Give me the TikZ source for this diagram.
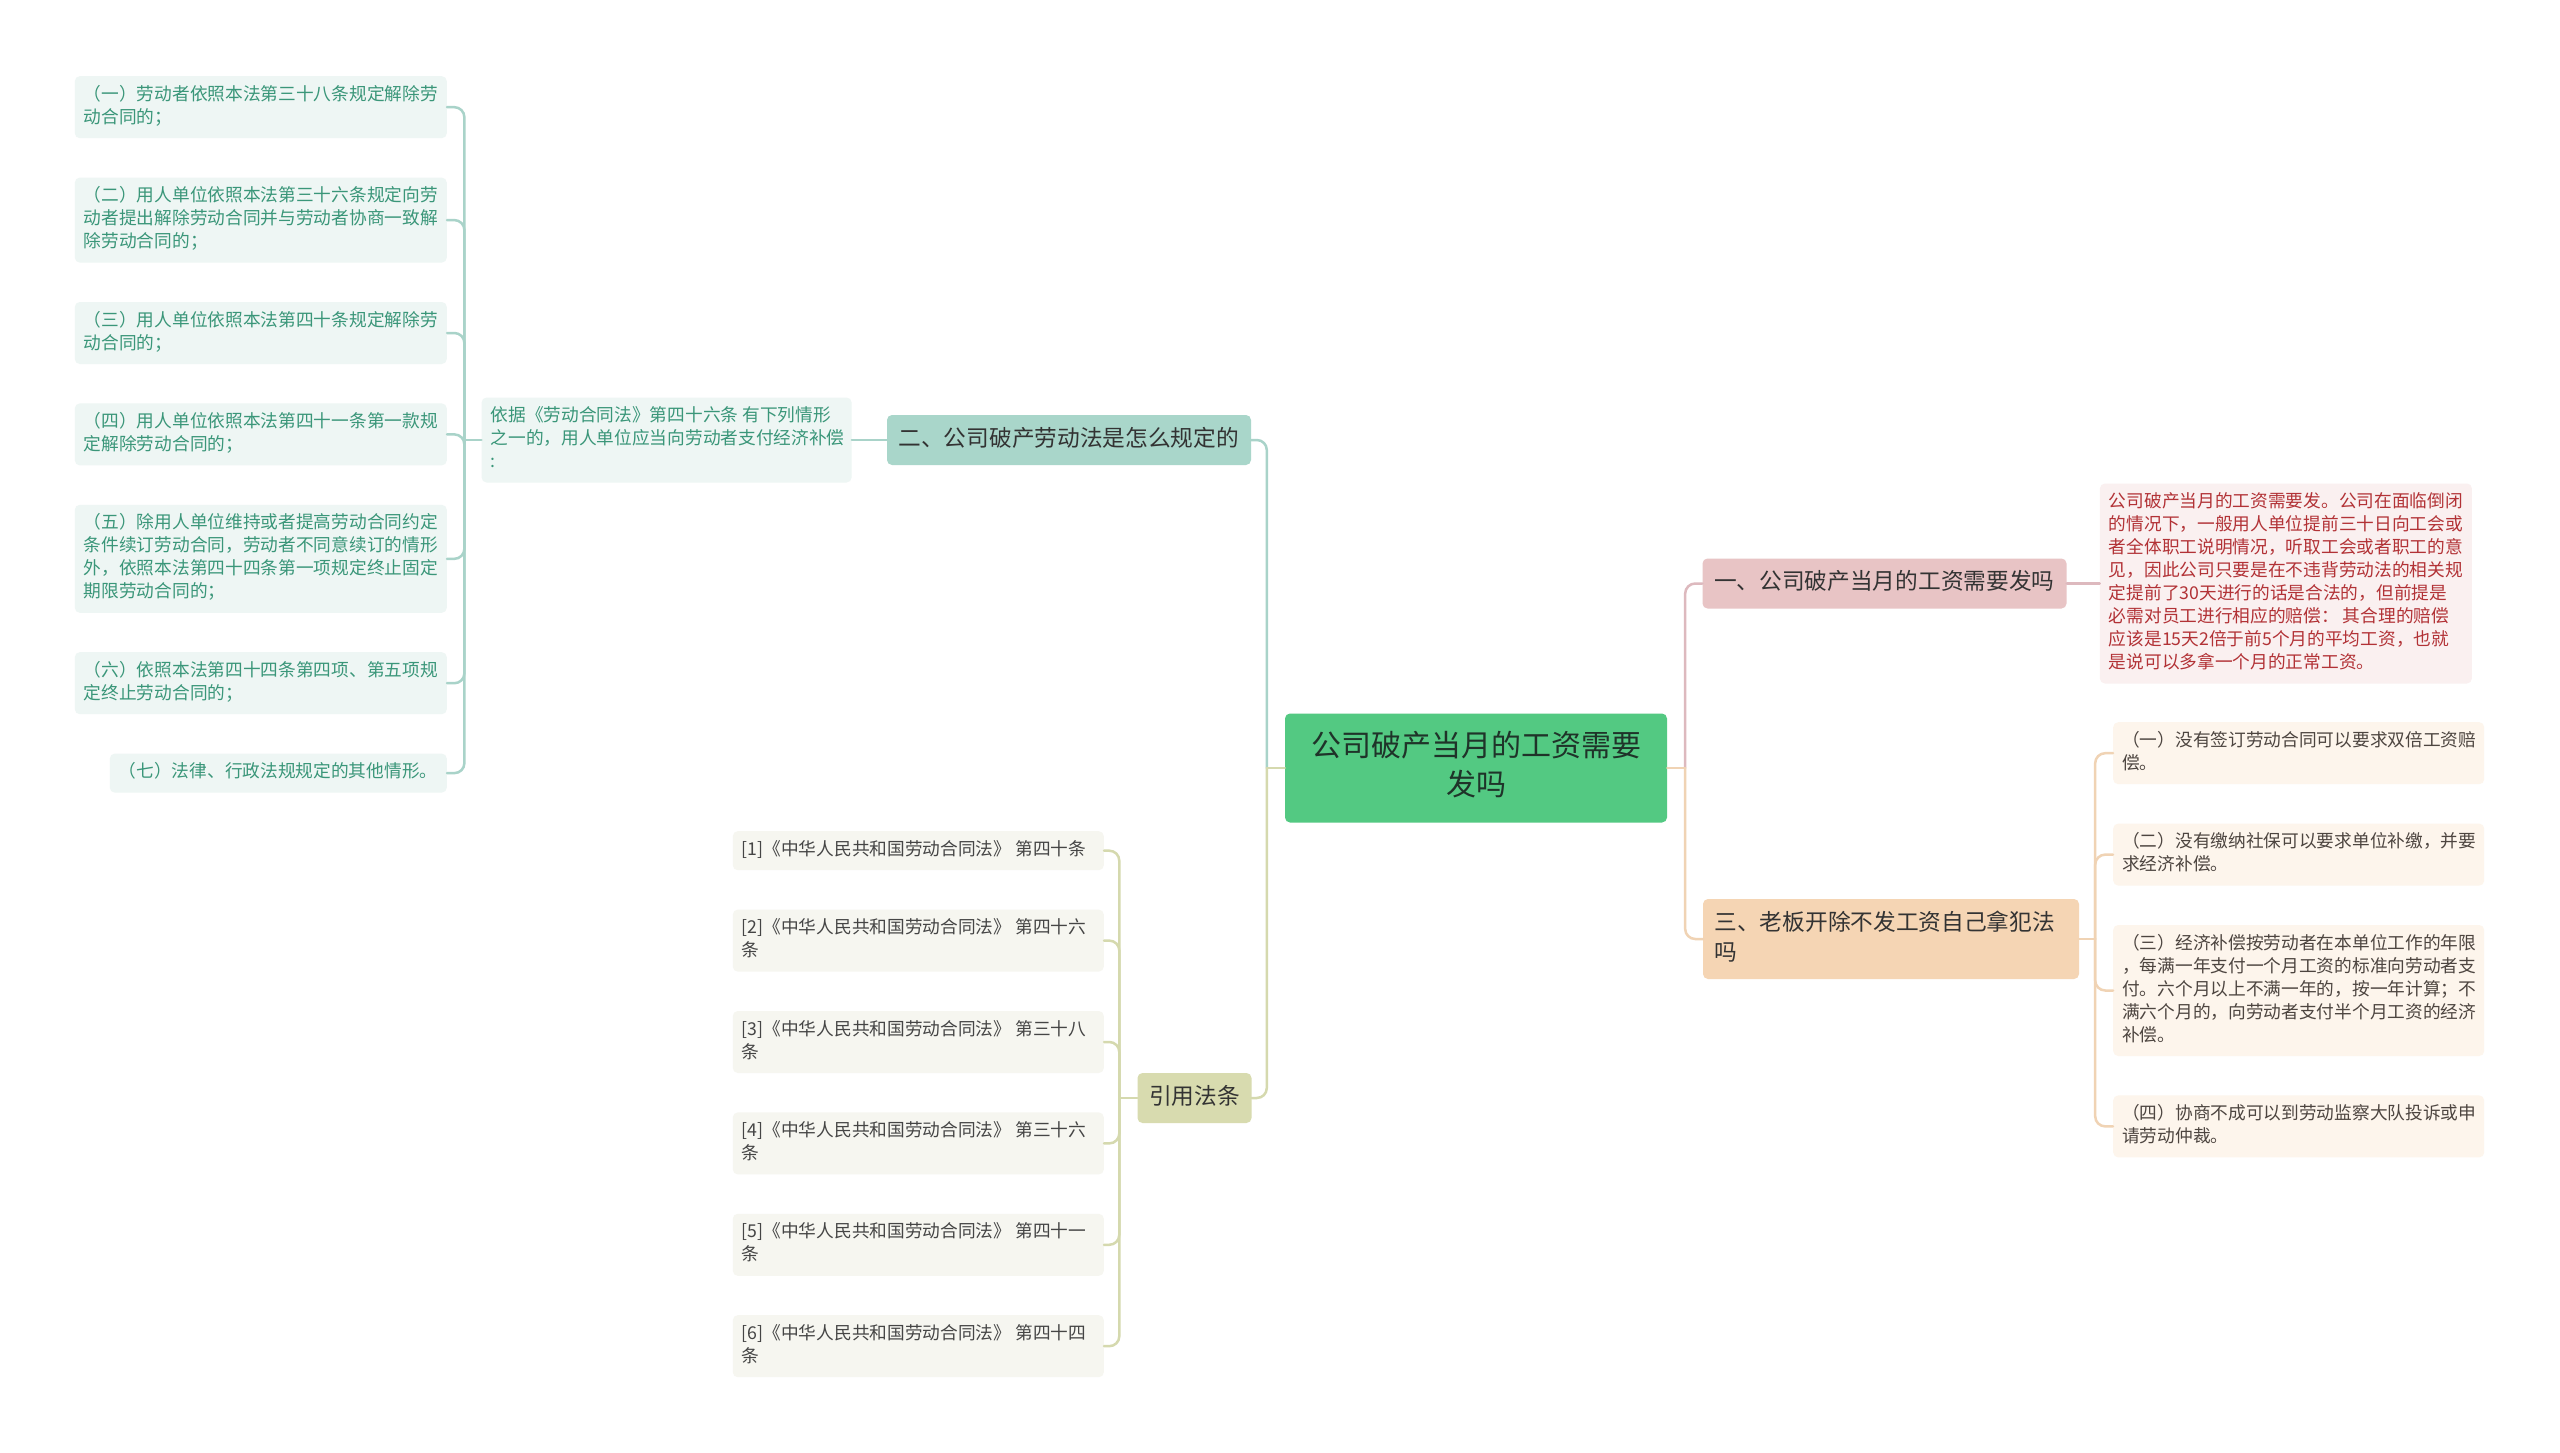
\documentclass[tikz,border=0pt]{standalone}
\usepackage{fontspec}
\setmainfont{Noto Sans CJK SC}
\usepackage{xcolor}
\usetikzlibrary{positioning}

\definecolor{topicfill}{HTML}{53C982}
\definecolor{topictext}{HTML}{1F3329}
\definecolor{darktext}{HTML}{333333}
\definecolor{tealmain}{HTML}{A9D6CA}
\definecolor{tealsoft}{HTML}{EEF6F4}
\definecolor{tealtext}{HTML}{3A9679}
\definecolor{tealedge}{HTML}{A9D3C9}
\definecolor{olivemain}{HTML}{D8DBAF}
\definecolor{olivesoft}{HTML}{F6F6F0}
\definecolor{olivetext}{HTML}{454545}
\definecolor{oliveedge}{HTML}{D5D9AE}
\definecolor{pinkmain}{HTML}{E8C4C5}
\definecolor{pinksoft}{HTML}{FAF0F0}
\definecolor{pinktext}{HTML}{B23236}
\definecolor{pinkedge}{HTML}{DDB9BE}
\definecolor{peachmain}{HTML}{F5D5B4}
\definecolor{peachsoft}{HTML}{FDF5EC}
\definecolor{peachtext}{HTML}{4D4540}
\definecolor{peachedge}{HTML}{F0D3B4}

\tikzset{
	topicbox/.style = {rectangle, rounded corners=5pt, fill=topicfill, text=topictext, font=\fontsize{30}{39}\selectfont, text width=331pt, align=flush center, inner xsep=25.5pt, inner ysep=15.5pt, execute at begin node=\strut, execute at end node=\strut},
	branchbox/.style = {rectangle, rounded corners=5pt, text=darktext, font=\fontsize{22.7}{30}\selectfont, text width=341pt, align=flush left, inner xsep=11.5pt, inner ysep=10pt, execute at begin node=\strut, execute at end node=\strut},
	leafbox/.style = {rectangle, rounded corners=5pt, font=\fontsize{17.7}{23}\selectfont, text width=353pt, align=flush left, inner xsep=9pt, inner ysep=8pt, execute at begin node=\strut, execute at end node=\strut},
	tealleaf/.style = {leafbox, fill=tealsoft, text=tealtext},
	oliveleaf/.style = {leafbox, fill=olivesoft, text=olivetext},
	pinkleaf/.style = {leafbox, fill=pinksoft, text=pinktext},
	peachleaf/.style = {leafbox, fill=peachsoft, text=peachtext},
	link/.style = {line width=2.5pt, rounded corners=10pt, line cap=round},
	tealline/.style = {link, draw=tealedge},
	oliveline/.style = {link, draw=oliveedge},
	pinkline/.style = {link, draw=pinkedge},
	peachline/.style = {link, draw=peachedge}
}

\begin{document}
\begin{tikzpicture}[x=1pt, y=-1pt]
	\fill[white] (0,0) rectangle (2560,1453);

	% Root
	\node (root) [topicbox] at (1476,768) {公司破产当月的工资需要\\发吗};

	% Left: branch two
	\node (b2) [branchbox, fill=tealmain] at (1069,440) {二、公司破产劳动法是怎么规定的};
	\node (law) [tealleaf, text width=352pt, left = 35pt of b2] {依据《劳动合同法》第四十六条 有下列情形\\之一的，用人单位应当向劳动者支付经济补偿\\:};
	\node (l1) [tealleaf, text width=354pt, anchor=north east] at (447,76) {（一）劳动者依照本法第三十八条规定解除劳\\动合同的；};
	\node (l2) [tealleaf, text width=354pt, below = 39pt of l1.south east, anchor=north east] {（二）用人单位依照本法第三十六条规定向劳\\动者提出解除劳动合同并与劳动者协商一致解\\除劳动合同的；};
	\node (l3) [tealleaf, text width=354pt, below = 39pt of l2.south east, anchor=north east] {（三）用人单位依照本法第四十条规定解除劳\\动合同的；};
	\node (l4) [tealleaf, text width=354pt, below = 39pt of l3.south east, anchor=north east] {（四）用人单位依照本法第四十一条第一款规\\定解除劳动合同的；};
	\node (l5) [tealleaf, text width=354pt, below = 39pt of l4.south east, anchor=north east] {（五）除用人单位维持或者提高劳动合同约定\\条件续订劳动合同，劳动者不同意续订的情形\\外，依照本法第四十四条第一项规定终止固定\\期限劳动合同的；};
	\node (l6) [tealleaf, text width=354pt, below = 39pt of l5.south east, anchor=north east] {（六）依照本法第四十四条第四项、第五项规\\定终止劳动合同的；};
	\node (l7) [tealleaf, text width=319pt, below = 39pt of l6.south east, anchor=north east] {（七）法律、行政法规规定的其他情形。};

	% Left: citations
	\node (b4) [branchbox, fill=olivemain, text width=91pt] at (1194.5,1098) {引用法条};
	\node (c1) [oliveleaf, anchor=north east] at (1104,831) {[1]《中华人民共和国劳动合同法》~第四十条};
	\node (c2) [oliveleaf, below = 39pt of c1.south east, anchor=north east] {[2]《中华人民共和国劳动合同法》 第四十六\\条};
	\node (c3) [oliveleaf, below = 39pt of c2.south east, anchor=north east] {[3]《中华人民共和国劳动合同法》 第三十八\\条};
	\node (c4) [oliveleaf, below = 39pt of c3.south east, anchor=north east] {[4]《中华人民共和国劳动合同法》 第三十六\\条};
	\node (c5) [oliveleaf, below = 39pt of c4.south east, anchor=north east] {[5]《中华人民共和国劳动合同法》 第四十一\\条};
	\node (c6) [oliveleaf, below = 39pt of c5.south east, anchor=north east] {[6]《中华人民共和国劳动合同法》 第四十四\\条};

	% Right: branch one
	\node (b1) [branchbox, fill=pinkmain] at (1884.5,583.5) {一、公司破产当月的工资需要发吗};
	\node (note) [pinkleaf, text width=354pt, right = 33pt of b1] {公司破产当月的工资需要发。公司在面临倒闭\\的情况下，一般用人单位提前三十日向工会或\\者全体职工说明情况，听取工会或者职工的意\\见，因此公司只要是在不违背劳动法的相关规\\定提前了30天进行的话是合法的，但前提是\\必需对员工进行相应的赔偿： 其合理的赔偿\\应该是15天2倍于前5个月的平均工资，也就\\是说可以多拿一个月的正常工资。};

	% Right: branch three
	\node (b3) [branchbox, fill=peachmain, text width=353pt] at (1891,939) {三、老板开除不发工资自己拿犯法\\吗};
	\node (r1) [peachleaf, anchor=north west] at (2113,722) {（一）没有签订劳动合同可以要求双倍工资赔\\偿。};
	\node (r2) [peachleaf, below = 39pt of r1.south west, anchor=north west] {（二）没有缴纳社保可以要求单位补缴，并要\\求经济补偿。};
	\node (r3) [peachleaf, below = 39pt of r2.south west, anchor=north west] {（三）经济补偿按劳动者在本单位工作的年限\\，每满一年支付一个月工资的标准向劳动者支\\付。六个月以上不满一年的，按一年计算；不\\满六个月的，向劳动者支付半个月工资的经济\\补偿。};
	\node (r4) [peachleaf, below = 39pt of r3.south west, anchor=north west] {（四）协商不成可以到劳动监察大队投诉或申\\请劳动仲裁。};

	\coordinate (jl) at ([xshift=-18pt]root.west);
	\coordinate (jr) at ([xshift=18pt]root.east);
	\coordinate (jlaw) at ([xshift=-17pt]law.west);
	\coordinate (jcite) at ([xshift=-18pt]b4.west);
	\coordinate (jpeach) at ([xshift=16pt]b3.east);

	\draw[tealline] (b2.east) -| (jl);
	\draw[oliveline] (b4.east) -| (jl);
	\draw[oliveline] (root.west) -- (jl);
	\draw[tealline] (b2.west) -- (law.east);
	\draw[tealline] (law.west) -- (jlaw);
	\draw[tealline] (l1.east) -| (jlaw);
	\draw[tealline] (l2.east) -| (jlaw);
	\draw[tealline] (l3.east) -| (jlaw);
	\draw[tealline] (l4.east) -| (jlaw);
	\draw[tealline] (l5.east) -| (jlaw);
	\draw[tealline] (l6.east) -| (jlaw);
	\draw[tealline] (l7.east) -| (jlaw);
	\draw[oliveline] (b4.west) -- (jcite);
	\draw[oliveline] (c1.east) -| (jcite);
	\draw[oliveline] (c2.east) -| (jcite);
	\draw[oliveline] (c3.east) -| (jcite);
	\draw[oliveline] (c4.east) -| (jcite);
	\draw[oliveline] (c5.east) -| (jcite);
	\draw[oliveline] (c6.east) -| (jcite);

	\draw[pinkline] (b1.west) -| (jr);
	\draw[peachline] (b3.west) -| (jr);
	\draw[peachline] (root.east) -- (jr);
	\draw[pinkline] (b1.east) -- (note.west);
	\draw[peachline] (b3.east) -- (jpeach);
	\draw[peachline] (r1.west) -| (jpeach);
	\draw[peachline] (r2.west) -| (jpeach);
	\draw[peachline] (r3.west) -| (jpeach);
	\draw[peachline] (r4.west) -| (jpeach);
\end{tikzpicture}
\end{document}
